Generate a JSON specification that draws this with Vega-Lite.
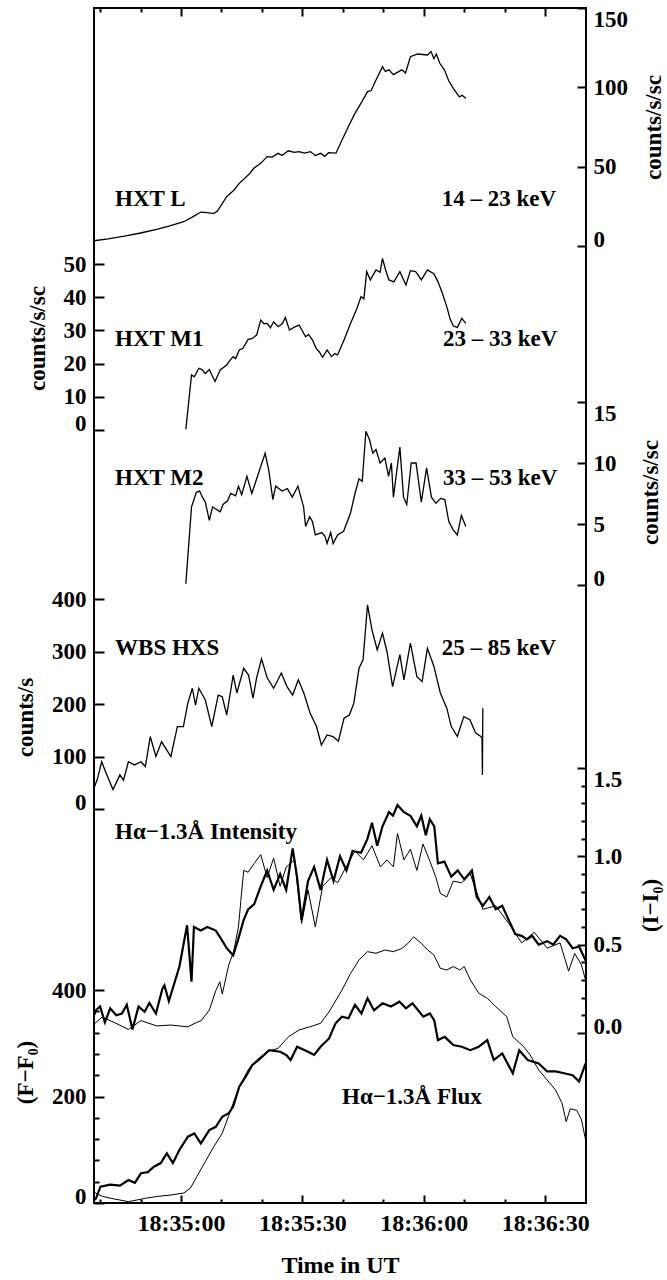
{
  "$schema": "https://vega.github.io/schema/vega-lite/v6.json",
  "width": 492,
  "height": 1195,
  "autosize": {"type": "none"},
  "padding": {"left": 94, "top": 8, "right": 81, "bottom": 77},
  "background": "white",
  "config": {
    "view": {"stroke": "black", "strokeWidth": 2},
    "axis": {
      "labelFont": "Liberation Serif", "labelFontWeight": "bold", "labelFontSize": 23, "labelColor": "black", "labelOverlap": false,
      "titleFont": "Liberation Serif", "titleFontWeight": "bold", "titleFontSize": 23, "titleColor": "black",
      "domain": false, "grid": false, "ticks": true, "tickColor": "black", "tickWidth": 2, "tickOpacity": 1
    },
    "text": {"font": "Liberation Serif", "fontWeight": "bold", "fontSize": 23, "color": "black", "baseline": "middle"}
  },
  "datasets": {
    "L": [{"t":38.5,"v":3.3},{"t":42,"v":4.5},{"t":46,"v":6.2},{"t":50,"v":8.2},{"t":54,"v":10.5},{"t":57,"v":12.5},{"t":60.7,"v":15.3},{"t":63,"v":18.5},{"t":64.9,"v":21.4},{"t":66.5,"v":21},{"t":68.1,"v":20.4},{"t":69,"v":22},{"t":71.3,"v":31.1},{"t":73,"v":35},{"t":74.4,"v":39.5},{"t":75.5,"v":42},{"t":77.1,"v":46},{"t":78,"v":49},{"t":79.7,"v":52.1},{"t":81.3,"v":56.3},{"t":82.5,"v":56},{"t":84,"v":58.4},{"t":85,"v":57},{"t":86.5,"v":60},{"t":88,"v":59},{"t":89.2,"v":59.5},{"t":90.5,"v":58.5},{"t":92,"v":59.5},{"t":93.2,"v":57},{"t":94.5,"v":58.4},{"t":95.5,"v":56.5},{"t":96.5,"v":58.8},{"t":98.3,"v":58.5},{"t":99.8,"v":66.8},{"t":101.5,"v":76},{"t":103,"v":83.6},{"t":104.5,"v":90},{"t":106.1,"v":97.3},{"t":107,"v":98},{"t":108.2,"v":104.6},{"t":109.8,"v":113},{"t":110.5,"v":110},{"t":111.4,"v":111},{"t":112.5,"v":108},{"t":114.6,"v":111},{"t":115.5,"v":109},{"t":116.7,"v":119.3},{"t":118.5,"v":121},{"t":120.9,"v":120.4},{"t":121.8,"v":122.5},{"t":122.5,"v":118},{"t":123.1,"v":121},{"t":124,"v":115},{"t":125.1,"v":111},{"t":126.2,"v":104},{"t":127.3,"v":99.4},{"t":128.8,"v":94},{"t":129.5,"v":95},{"t":130.4,"v":93}],
    "M1": [{"t":61.2,"v":0.2},{"t":62.6,"v":16.6},{"t":63.3,"v":16},{"t":64.4,"v":18.6},{"t":65.2,"v":18.2},{"t":66,"v":17},{"t":67,"v":18.2},{"t":68.4,"v":14.6},{"t":69.7,"v":18.1},{"t":71.3,"v":19.6},{"t":72.1,"v":21},{"t":72.9,"v":22.1},{"t":73.5,"v":21.5},{"t":74.4,"v":24.1},{"t":75.3,"v":24.6},{"t":76.6,"v":27.3},{"t":77.5,"v":27.5},{"t":78.7,"v":28.6},{"t":79.7,"v":33.1},{"t":80.5,"v":32},{"t":81.3,"v":32.1},{"t":82.1,"v":30.8},{"t":82.9,"v":32.6},{"t":84,"v":31.1},{"t":85,"v":32},{"t":85.8,"v":33.9},{"t":86.8,"v":30.1},{"t":88,"v":31},{"t":89.2,"v":31.6},{"t":90.8,"v":28.1},{"t":91.5,"v":28.8},{"t":92.5,"v":27.1},{"t":93.4,"v":24.6},{"t":94.2,"v":23.5},{"t":95,"v":21.9},{"t":96.1,"v":24.1},{"t":97.2,"v":22.1},{"t":98,"v":23},{"t":98.7,"v":22.6},{"t":100.3,"v":27.1},{"t":101.9,"v":32.1},{"t":103.5,"v":36.7},{"t":104.5,"v":40.2},{"t":105.2,"v":39.5},{"t":105.9,"v":47.7},{"t":106.8,"v":45.2},{"t":108.2,"v":48.2},{"t":109.2,"v":47.5},{"t":109.8,"v":51.7},{"t":110.5,"v":48.5},{"t":111.4,"v":45.2},{"t":112.6,"v":44.6},{"t":114.1,"v":47.7},{"t":115.6,"v":43.7},{"t":116.7,"v":48},{"t":118,"v":47.7},{"t":118.7,"v":46.5},{"t":119.4,"v":45.2},{"t":120.9,"v":48.2},{"t":122.5,"v":47.1},{"t":123.5,"v":44.7},{"t":124.6,"v":41.2},{"t":125.7,"v":37.1},{"t":126.5,"v":33.5},{"t":127.3,"v":31.3},{"t":128.3,"v":30.9},{"t":129.4,"v":33.6},{"t":130.4,"v":32.1}],
    "M2": [{"t":61.2,"v":0.1},{"t":62.6,"v":6.4},{"t":63.8,"v":7.6},{"t":64.6,"v":7.7},{"t":65.3,"v":7.2},{"t":66,"v":6.8},{"t":67,"v":5.3},{"t":67.8,"v":6.4},{"t":69.7,"v":6},{"t":70.4,"v":6.6},{"t":71.5,"v":6.9},{"t":72.3,"v":7.5},{"t":73.5,"v":7.3},{"t":74.2,"v":8.1},{"t":75,"v":7.4},{"t":76.3,"v":8.9},{"t":77.5,"v":7.5},{"t":79.2,"v":9.2},{"t":80.8,"v":10.8},{"t":81.7,"v":9.4},{"t":82.7,"v":7},{"t":83.4,"v":8.1},{"t":85,"v":7.7},{"t":86.3,"v":7.9},{"t":87.5,"v":7.2},{"t":88.9,"v":8.1},{"t":90.3,"v":6.4},{"t":90.8,"v":4.8},{"t":91.8,"v":5.6},{"t":92.5,"v":5.2},{"t":93.2,"v":4.1},{"t":94.8,"v":4.3},{"t":95.6,"v":4.0},{"t":96.1,"v":3.4},{"t":97,"v":4.3},{"t":97.6,"v":3.4},{"t":98.7,"v":4.1},{"t":100.2,"v":4.4},{"t":101.9,"v":5.9},{"t":103,"v":7.5},{"t":104,"v":8.7},{"t":104.8,"v":8.5},{"t":105.7,"v":12.6},{"t":106.6,"v":11.9},{"t":107.4,"v":10.8},{"t":108.2,"v":11.1},{"t":109.2,"v":10.0},{"t":110.4,"v":10.4},{"t":111.3,"v":8.9},{"t":112,"v":10},{"t":112.5,"v":7.2},{"t":114.1,"v":11.3},{"t":115,"v":7.2},{"t":115.8,"v":6.6},{"t":116.9,"v":10},{"t":118.1,"v":10},{"t":119.4,"v":6.8},{"t":120.7,"v":9.6},{"t":121.9,"v":7.2},{"t":123,"v":6.7},{"t":124.2,"v":7.1},{"t":125.2,"v":7.0},{"t":126.2,"v":5.2},{"t":127.3,"v":4.5},{"t":128.3,"v":4.1},{"t":129.3,"v":5.7},{"t":130.4,"v":4.8}],
    "WBS": [{"t":38.5,"v":40},{"t":39.3,"v":56},{"t":40.4,"v":90},{"t":41.5,"v":68},{"t":43.2,"v":37},{"t":44.9,"v":65},{"t":45.8,"v":55},{"t":47,"v":90},{"t":48.5,"v":84},{"t":50.1,"v":90},{"t":51.2,"v":81},{"t":52.4,"v":138},{"t":53.8,"v":100},{"t":55.2,"v":128},{"t":56.5,"v":112},{"t":57.5,"v":100},{"t":59.1,"v":157},{"t":60.6,"v":157},{"t":61.7,"v":202},{"t":62.8,"v":230},{"t":63.6,"v":198},{"t":64.4,"v":230},{"t":66,"v":208},{"t":67.6,"v":157},{"t":69.2,"v":217},{"t":70.2,"v":214},{"t":71.3,"v":179},{"t":72.9,"v":255},{"t":73.8,"v":221},{"t":75.5,"v":268},{"t":76.7,"v":255},{"t":77.8,"v":211},{"t":78.7,"v":250},{"t":79.9,"v":286},{"t":81.3,"v":250},{"t":82.9,"v":230},{"t":84.8,"v":259},{"t":86.2,"v":233},{"t":87.6,"v":217},{"t":89,"v":246},{"t":90.4,"v":220},{"t":91.9,"v":183},{"t":93.5,"v":157},{"t":94.7,"v":122},{"t":96.1,"v":141},{"t":97.6,"v":138},{"t":98.9,"v":129},{"t":100.3,"v":173},{"t":101.6,"v":179},{"t":102.7,"v":201},{"t":104,"v":268},{"t":105,"v":284},{"t":106.1,"v":389},{"t":107.2,"v":341},{"t":108.5,"v":303},{"t":109.8,"v":335},{"t":110.9,"v":300},{"t":112.3,"v":233},{"t":114.1,"v":294},{"t":115.1,"v":246},{"t":116.7,"v":316},{"t":118.3,"v":252},{"t":119.6,"v":243},{"t":120.9,"v":306},{"t":122.5,"v":272},{"t":124.1,"v":221},{"t":125.7,"v":192},{"t":126.8,"v":157},{"t":128.3,"v":138},{"t":129.9,"v":176},{"t":131.4,"v":170},{"t":132.8,"v":145},{"t":134.1,"v":138},{"t":134.4,"v":135},{"t":134.5,"v":65},{"t":134.6,"v":192}],
    "Ithick": [{"t":38.5,"v":0.1},{"t":39,"v":0.13},{"t":40,"v":0.15},{"t":41.2,"v":0.06},{"t":42.5,"v":0.14},{"t":44,"v":0.1},{"t":45.4,"v":0.11},{"t":46.6,"v":0.16},{"t":48,"v":0.02},{"t":49.5,"v":0.15},{"t":51,"v":0.12},{"t":52.2,"v":0.17},{"t":53.8,"v":0.11},{"t":55.4,"v":0.25},{"t":55.9,"v":0.27},{"t":57,"v":0.18},{"t":58.6,"v":0.3},{"t":59.6,"v":0.375},{"t":61.5,"v":0.61},{"t":62.6,"v":0.29},{"t":63.2,"v":0.6},{"t":64.9,"v":0.58},{"t":66.5,"v":0.6},{"t":68.6,"v":0.58},{"t":70,"v":0.53},{"t":71.3,"v":0.48},{"t":72.9,"v":0.44},{"t":74,"v":0.52},{"t":75.5,"v":0.64},{"t":76.6,"v":0.7},{"t":78.1,"v":0.73},{"t":79.7,"v":0.83},{"t":81.3,"v":0.92},{"t":82.9,"v":0.81},{"t":84.5,"v":0.9},{"t":86,"v":0.81},{"t":87.6,"v":1.045},{"t":88.7,"v":0.88},{"t":89.8,"v":0.64},{"t":91.4,"v":0.86},{"t":92.9,"v":0.94},{"t":94.5,"v":0.81},{"t":96.1,"v":0.98},{"t":97.7,"v":0.86},{"t":99.3,"v":1.0},{"t":100.9,"v":0.92},{"t":102.4,"v":1.03},{"t":104.5,"v":1.02},{"t":106.1,"v":1.1},{"t":107.2,"v":1.19},{"t":108.5,"v":1.06},{"t":109.8,"v":1.17},{"t":111.4,"v":1.25},{"t":112.4,"v":1.23},{"t":113.5,"v":1.29},{"t":115.1,"v":1.25},{"t":116.7,"v":1.23},{"t":118.3,"v":1.17},{"t":119.4,"v":1.23},{"t":120.5,"v":1.12},{"t":121.5,"v":1.21},{"t":122.6,"v":1.17},{"t":123.5,"v":0.96},{"t":125.1,"v":0.97},{"t":126.8,"v":0.885},{"t":128.4,"v":0.92},{"t":130,"v":0.87},{"t":131.9,"v":0.92},{"t":133.1,"v":0.77},{"t":134.6,"v":0.72},{"t":136.2,"v":0.77},{"t":137.8,"v":0.7},{"t":139.4,"v":0.72},{"t":141,"v":0.64},{"t":142.6,"v":0.56},{"t":144.2,"v":0.55},{"t":145.5,"v":0.53},{"t":146.8,"v":0.55},{"t":148.4,"v":0.5},{"t":150.5,"v":0.52},{"t":152,"v":0.5},{"t":153.7,"v":0.55},{"t":155.2,"v":0.53},{"t":156.8,"v":0.48},{"t":158.4,"v":0.49},{"t":160,"v":0.41}],
    "Ithin": [{"t":38.5,"v":0.05},{"t":39,"v":0.06},{"t":40.5,"v":0.09},{"t":43.5,"v":0.06},{"t":47,"v":0.02},{"t":50.1,"v":0.07},{"t":54,"v":0.04},{"t":57.5,"v":0.045},{"t":61.7,"v":0.035},{"t":63.9,"v":0.06},{"t":65,"v":0.07},{"t":67,"v":0.13},{"t":68.6,"v":0.24},{"t":69.6,"v":0.29},{"t":70.2,"v":0.22},{"t":71.8,"v":0.385},{"t":73,"v":0.46},{"t":74.2,"v":0.6},{"t":74.8,"v":0.75},{"t":75.5,"v":0.92},{"t":76.6,"v":0.91},{"t":78.1,"v":0.96},{"t":79.7,"v":1.01},{"t":81.3,"v":0.88},{"t":82.9,"v":0.99},{"t":84.5,"v":0.83},{"t":86,"v":0.94},{"t":88.1,"v":0.98},{"t":89.8,"v":0.62},{"t":91.4,"v":0.81},{"t":93.2,"v":0.6},{"t":95,"v":0.83},{"t":97.1,"v":0.88},{"t":98.7,"v":0.85},{"t":100.8,"v":0.94},{"t":103,"v":1.03},{"t":105.1,"v":0.98},{"t":107.2,"v":1.06},{"t":109.3,"v":0.94},{"t":110.9,"v":0.98},{"t":112.5,"v":0.94},{"t":113.5,"v":1.13},{"t":115.1,"v":0.98},{"t":116.7,"v":1.04},{"t":118.3,"v":0.92},{"t":119.8,"v":1.07},{"t":121.4,"v":0.98},{"t":123,"v":0.88},{"t":124.1,"v":0.79},{"t":125.7,"v":0.77},{"t":127.3,"v":0.86},{"t":129.4,"v":0.85},{"t":131.5,"v":0.9},{"t":134.6,"v":0.7},{"t":137.8,"v":0.72},{"t":141,"v":0.62},{"t":144.2,"v":0.51},{"t":147.3,"v":0.57},{"t":150.5,"v":0.48},{"t":153.7,"v":0.51},{"t":155.8,"v":0.35},{"t":157.3,"v":0.45},{"t":158.9,"v":0.39},{"t":160,"v":0.3}],
    "Fthick": [{"t":38.5,"v":5},{"t":39,"v":8.8},{"t":40.1,"v":30.6},{"t":42.5,"v":34.4},{"t":44.9,"v":32.5},{"t":47,"v":43.2},{"t":48.6,"v":38},{"t":50.1,"v":55.8},{"t":51.8,"v":58},{"t":53.3,"v":68.2},{"t":55,"v":75},{"t":56.5,"v":93.3},{"t":58,"v":75},{"t":59.6,"v":99.5},{"t":61.7,"v":124.5},{"t":63.3,"v":130.7},{"t":64.9,"v":112},{"t":67,"v":137},{"t":68.6,"v":143},{"t":70.2,"v":162},{"t":71.8,"v":168.5},{"t":72.9,"v":181},{"t":74.4,"v":218.4},{"t":76,"v":237},{"t":77.6,"v":259},{"t":79.2,"v":268.5},{"t":81.8,"v":287},{"t":84.5,"v":284},{"t":86,"v":278},{"t":87.1,"v":268.5},{"t":88.7,"v":293.5},{"t":91.4,"v":284},{"t":92.9,"v":278},{"t":94.5,"v":293.5},{"t":96.6,"v":309},{"t":98.2,"v":337.5},{"t":99.8,"v":350},{"t":101.4,"v":347},{"t":103,"v":372},{"t":104.6,"v":356},{"t":106.1,"v":384.4},{"t":107.7,"v":362},{"t":109.8,"v":375},{"t":111.9,"v":369},{"t":114,"v":378},{"t":115.6,"v":365.6},{"t":117.2,"v":375},{"t":119.9,"v":350},{"t":121.5,"v":356},{"t":122.6,"v":343},{"t":123.5,"v":306},{"t":125.2,"v":312},{"t":127.3,"v":296.7},{"t":129.4,"v":293.5},{"t":131.5,"v":287},{"t":133.6,"v":293.5},{"t":135.7,"v":306},{"t":137.3,"v":268.5},{"t":139.4,"v":281},{"t":142,"v":243.6},{"t":143.6,"v":287},{"t":145.7,"v":268.5},{"t":148.4,"v":262},{"t":150.5,"v":247},{"t":152.6,"v":247},{"t":154.7,"v":243.6},{"t":156.8,"v":240},{"t":158.4,"v":228},{"t":160,"v":262}],
    "Fthin": [{"t":38.5,"v":22},{"t":39,"v":18},{"t":40.6,"v":12.5},{"t":42.7,"v":8.8},{"t":47,"v":2.5},{"t":51.2,"v":8.8},{"t":54.3,"v":12.5},{"t":57.5,"v":15},{"t":60.7,"v":18.8},{"t":62.3,"v":27.6},{"t":63.9,"v":49.4},{"t":66,"v":77.6},{"t":68.1,"v":105.7},{"t":70.2,"v":131},{"t":72.3,"v":174.7},{"t":74.4,"v":218.4},{"t":76.6,"v":250},{"t":78.7,"v":268.5},{"t":81.3,"v":284},{"t":84,"v":290.5},{"t":86.6,"v":312.3},{"t":89.2,"v":325},{"t":91.9,"v":331},{"t":94.5,"v":337.5},{"t":96.6,"v":359},{"t":99.8,"v":400},{"t":101.9,"v":431},{"t":104,"v":456.5},{"t":106.1,"v":472},{"t":108.2,"v":469},{"t":110.4,"v":475},{"t":112.5,"v":472},{"t":114.6,"v":478},{"t":116.1,"v":487.5},{"t":117.5,"v":500},{"t":119.4,"v":487.5},{"t":121,"v":475},{"t":122.5,"v":465.8},{"t":124.1,"v":440.8},{"t":125.7,"v":437.6},{"t":127.3,"v":444},{"t":128.9,"v":437.6},{"t":130,"v":444},{"t":131.5,"v":419},{"t":133.6,"v":394},{"t":135.7,"v":384.4},{"t":137.8,"v":368.7},{"t":140.5,"v":350},{"t":142,"v":312.3},{"t":144.7,"v":293.5},{"t":146.3,"v":278},{"t":148.4,"v":250},{"t":150.5,"v":231},{"t":152.6,"v":212},{"t":154.2,"v":187},{"t":155.2,"v":152.7},{"t":156.2,"v":177},{"t":157.8,"v":174},{"t":159,"v":156},{"t":160,"v":118}],
    "labL": [{"t":43.7,"v":29.6,"s":"HXT L"}],
    "labLe": [{"t":152.7,"v":29.6,"s":"14 – 23 keV"}],
    "labM1": [{"t":43.7,"v":27.4,"s":"HXT M1"}],
    "labM1e": [{"t":153,"v":27.4,"s":"23 – 33 keV"}],
    "labM2": [{"t":43.7,"v":8.8,"s":"HXT M2"}],
    "labM2e": [{"t":153,"v":8.8,"s":"33 – 53 keV"}],
    "labW": [{"t":43.7,"v":307,"s":"WBS HXS"}],
    "labWe": [{"t":152.7,"v":307,"s":"25 – 85 keV"}],
    "labI": [{"t":43.7,"v":1.14,"s":"Hα−1.3Å Intensity"}],
    "labF": [{"t":99.8,"v":199,"s":"Hα−1.3Å Flux"}]
  },
  "resolve": {"scale": {"y": "independent"}, "axis": {"y": "independent", "x": "independent"}},
  "layer": [
    {"data": {"name": "L"}, "mark": {"type": "line", "color": "black", "strokeWidth": 1.3},
     "encoding": {
       "x": {"field": "t", "type": "quantitative", "scale": {"domain": [38.5, 160.1], "nice": false},
             "axis": {"orient": "top", "values": [40,50,60,70,80,90,100,110,120,130,140,150], "labels": false, "title": null,
                      "tickSize": {"condition": {"test": "datum.value % 30 === 0", "value": -8}, "value": -4}}},
       "y": {"field": "v", "type": "quantitative", "scale": {"domain": [0, 150], "range": [238, 0], "nice": false, "zero": false},
             "axis": {"orient": "right", "values": [0,50,100,150], "tickSize": -9, "labelPadding": 16,
                      "labelBaseline": {"condition": [{"test": "datum.value === 0", "value": "alphabetic"}, {"test": "datum.value === 150", "value": "top"}], "value": "middle"},
                      "title": "counts/s/sc",
                      "titleAngle": 270, "titleX": 67, "titleY": 119, "titleBaseline": "middle", "titleAlign": "center"}}
     }},
    {"data": {"name": "labL"}, "mark": {"type": "text", "align": "left"},
     "encoding": {"x": {"field": "t", "type": "quantitative", "scale": {"domain": [38.5, 160.1], "nice": false}, "axis": null},
                  "y": {"field": "v", "type": "quantitative", "scale": {"domain": [0, 150], "range": [238, 0], "nice": false, "zero": false}, "axis": null},
                  "text": {"field": "s"}}},
    {"data": {"name": "labLe"}, "mark": {"type": "text", "align": "right"},
     "encoding": {"x": {"field": "t", "type": "quantitative", "scale": {"domain": [38.5, 160.1], "nice": false}, "axis": null},
                  "y": {"field": "v", "type": "quantitative", "scale": {"domain": [0, 150], "range": [238, 0], "nice": false, "zero": false}, "axis": null},
                  "text": {"field": "s"}}},
    {"data": {"name": "M1"}, "mark": {"type": "line", "color": "black", "strokeWidth": 1.3},
     "encoding": {
       "x": {"field": "t", "type": "quantitative", "scale": {"domain": [38.5, 160.1], "nice": false}, "axis": null},
       "y": {"field": "v", "type": "quantitative", "scale": {"domain": [0, 50], "range": [422, 256], "nice": false, "zero": false},
             "axis": {"orient": "left", "values": [0,10,20,30,40,50], "tickSize": -10, "labelPadding": 18,
                      "labelBaseline": {"condition": {"test": "datum.value === 0", "value": "alphabetic"}, "value": "middle"},
                      "title": "counts/s/sc",
                      "titleAngle": 270, "titleX": -57, "titleY": 330, "titleBaseline": "middle", "titleAlign": "center"}}
     }},
    {"data": {"name": "labM1"}, "mark": {"type": "text", "align": "left"},
     "encoding": {"x": {"field": "t", "type": "quantitative", "scale": {"domain": [38.5, 160.1], "nice": false}, "axis": null},
                  "y": {"field": "v", "type": "quantitative", "scale": {"domain": [0, 50], "range": [422, 256], "nice": false, "zero": false}, "axis": null},
                  "text": {"field": "s"}}},
    {"data": {"name": "labM1e"}, "mark": {"type": "text", "align": "right"},
     "encoding": {"x": {"field": "t", "type": "quantitative", "scale": {"domain": [38.5, 160.1], "nice": false}, "axis": null},
                  "y": {"field": "v", "type": "quantitative", "scale": {"domain": [0, 50], "range": [422, 256], "nice": false, "zero": false}, "axis": null},
                  "text": {"field": "s"}}},
    {"data": {"name": "M2"}, "mark": {"type": "line", "color": "black", "strokeWidth": 1.3},
     "encoding": {
       "x": {"field": "t", "type": "quantitative", "scale": {"domain": [38.5, 160.1], "nice": false}, "axis": null},
       "y": {"field": "v", "type": "quantitative", "scale": {"domain": [0, 15], "range": [577, 394], "nice": false, "zero": false},
             "axis": {"orient": "right", "values": [0,5,10,15], "tickSize": -9, "labelPadding": 16,
                      "labelBaseline": {"condition": [{"test": "datum.value === 0", "value": "alphabetic"}, {"test": "datum.value === 15", "value": "top"}], "value": "middle"},
                      "title": "counts/s/sc",
                      "titleAngle": 270, "titleX": 64, "titleY": 484, "titleBaseline": "middle", "titleAlign": "center"}}
     }},
    {"data": {"name": "labM2"}, "mark": {"type": "text", "align": "left"},
     "encoding": {"x": {"field": "t", "type": "quantitative", "scale": {"domain": [38.5, 160.1], "nice": false}, "axis": null},
                  "y": {"field": "v", "type": "quantitative", "scale": {"domain": [0, 15], "range": [577, 394], "nice": false, "zero": false}, "axis": null},
                  "text": {"field": "s"}}},
    {"data": {"name": "labM2e"}, "mark": {"type": "text", "align": "right"},
     "encoding": {"x": {"field": "t", "type": "quantitative", "scale": {"domain": [38.5, 160.1], "nice": false}, "axis": null},
                  "y": {"field": "v", "type": "quantitative", "scale": {"domain": [0, 15], "range": [577, 394], "nice": false, "zero": false}, "axis": null},
                  "text": {"field": "s"}}},
    {"data": {"name": "WBS"}, "mark": {"type": "line", "color": "black", "strokeWidth": 1.3},
     "encoding": {
       "x": {"field": "t", "type": "quantitative", "scale": {"domain": [38.5, 160.1], "nice": false}, "axis": null},
       "y": {"field": "v", "type": "quantitative", "scale": {"domain": [0, 400], "range": [801, 591], "nice": false, "zero": false},
             "axis": {"orient": "left", "values": [0,100,200,300,400], "tickSize": -10, "labelPadding": 18,
                      "labelBaseline": {"condition": {"test": "datum.value === 0", "value": "alphabetic"}, "value": "middle"},
                      "title": "counts/s",
                      "titleAngle": 270, "titleX": -69, "titleY": 709, "titleBaseline": "middle", "titleAlign": "center"}}
     }},
    {"data": {"name": "labW"}, "mark": {"type": "text", "align": "left"},
     "encoding": {"x": {"field": "t", "type": "quantitative", "scale": {"domain": [38.5, 160.1], "nice": false}, "axis": null},
                  "y": {"field": "v", "type": "quantitative", "scale": {"domain": [0, 400], "range": [801, 591], "nice": false, "zero": false}, "axis": null},
                  "text": {"field": "s"}}},
    {"data": {"name": "labWe"}, "mark": {"type": "text", "align": "right"},
     "encoding": {"x": {"field": "t", "type": "quantitative", "scale": {"domain": [38.5, 160.1], "nice": false}, "axis": null},
                  "y": {"field": "v", "type": "quantitative", "scale": {"domain": [0, 400], "range": [801, 591], "nice": false, "zero": false}, "axis": null},
                  "text": {"field": "s"}}},
    {"data": {"name": "Ithick"}, "mark": {"type": "line", "color": "black", "strokeWidth": 2.2},
     "encoding": {
       "x": {"field": "t", "type": "quantitative", "scale": {"domain": [38.5, 160.1], "nice": false}, "axis": null},
       "y": {"field": "v", "type": "quantitative", "scale": {"domain": [0, 1.5], "range": [1025, 760], "nice": false, "zero": false},
             "axis": {"orient": "right", "values": [0,0.1,0.2,0.3,0.4,0.5,0.6,0.7,0.8,0.9,1,1.1,1.2,1.3,1.4,1.5],
                      "labelExpr": "abs(datum.value*2 - round(datum.value*2)) < 0.01 ? format(datum.value, '.1f') : ''",
                      "tickSize": {"condition": {"test": "abs(datum.value*2 - round(datum.value*2)) < 0.01", "value": -9}, "value": -5},
                      "labelPadding": 16,
                      "labelBaseline": {"condition": [{"test": "datum.value === 0", "value": "alphabetic"}, {"test": "datum.value === 1.5", "value": "top"}], "value": "middle"},
                      "title": "(I−I₀)",
                      "titleAngle": 270, "titleX": 64, "titleY": 897, "titleBaseline": "middle", "titleAlign": "center"}}
     }},
    {"data": {"name": "Ithin"}, "mark": {"type": "line", "color": "black", "strokeWidth": 1},
     "encoding": {
       "x": {"field": "t", "type": "quantitative", "scale": {"domain": [38.5, 160.1], "nice": false}, "axis": null},
       "y": {"field": "v", "type": "quantitative", "scale": {"domain": [0, 1.5], "range": [1025, 760], "nice": false, "zero": false}, "axis": null}
     }},
    {"data": {"name": "labI"}, "mark": {"type": "text", "align": "left"},
     "encoding": {"x": {"field": "t", "type": "quantitative", "scale": {"domain": [38.5, 160.1], "nice": false}, "axis": null},
                  "y": {"field": "v", "type": "quantitative", "scale": {"domain": [0, 1.5], "range": [1025, 760], "nice": false, "zero": false}, "axis": null},
                  "text": {"field": "s"}}},
    {"data": {"name": "Fthick"}, "mark": {"type": "line", "color": "black", "strokeWidth": 2.2},
     "encoding": {
       "x": {"field": "t", "type": "quantitative", "scale": {"domain": [38.5, 160.1], "nice": false},
             "axis": {"orient": "bottom", "values": [40,50,60,70,80,90,100,110,120,130,140,150],
                      "labelExpr": "datum.value % 30 === 0 ? '18:' + (34 + floor(datum.value/60)) + ':' + (datum.value % 60 === 0 ? '00' : '30') : ''",
                      "tickSize": {"condition": {"test": "datum.value % 30 === 0", "value": -8}, "value": -4},
                      "labelPadding": 16, "labelFontSize": 24, "titleFontSize": 24,
                      "title": "Time in UT", "titleY": 62, "titleBaseline": "middle"}},
       "y": {"field": "v", "type": "quantitative", "scale": {"domain": [0, 400], "range": [1195, 982], "nice": false, "zero": false},
             "axis": {"orient": "left", "values": [0,40,80,120,160,200,240,280,320,360,400],
                      "labelExpr": "datum.value % 200 === 0 ? datum.value : ''",
                      "tickSize": {"condition": {"test": "datum.value % 200 === 0", "value": -10}, "value": -5},
                      "labelPadding": 18,
                      "labelBaseline": {"condition": {"test": "datum.value === 0", "value": "alphabetic"}, "value": "middle"},
                      "title": "(F−F₀)",
                      "titleAngle": 270, "titleX": -69, "titleY": 1064, "titleBaseline": "middle", "titleAlign": "center"}}
     }},
    {"data": {"name": "Fthin"}, "mark": {"type": "line", "color": "black", "strokeWidth": 1},
     "encoding": {
       "x": {"field": "t", "type": "quantitative", "scale": {"domain": [38.5, 160.1], "nice": false}, "axis": null},
       "y": {"field": "v", "type": "quantitative", "scale": {"domain": [0, 400], "range": [1195, 982], "nice": false, "zero": false}, "axis": null}
     }},
    {"data": {"name": "labF"}, "mark": {"type": "text", "align": "left"},
     "encoding": {"x": {"field": "t", "type": "quantitative", "scale": {"domain": [38.5, 160.1], "nice": false}, "axis": null},
                  "y": {"field": "v", "type": "quantitative", "scale": {"domain": [0, 400], "range": [1195, 982], "nice": false, "zero": false}, "axis": null},
                  "text": {"field": "s"}}}
  ]
}
